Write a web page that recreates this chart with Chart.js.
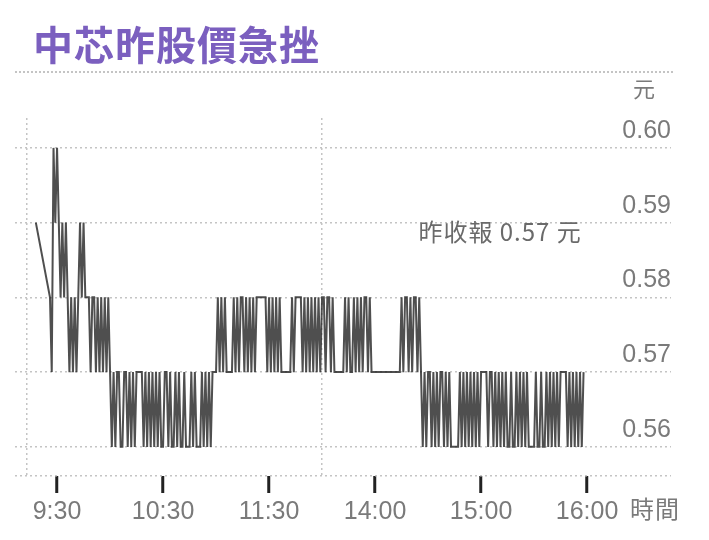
<!DOCTYPE html>
<html>
<head>
<meta charset="utf-8">
<script src="https://cdn.jsdelivr.net/npm/chart.js@4.4.1/dist/chart.umd.min.js"></script>
<style>
  html, body { margin: 0; padding: 0; background: #fff; }
  #wrap { position: relative; width: 709px; height: 540px; overflow: hidden; }
  #title { position: absolute; left: 33px; top: 14px; margin: 0; font: bold 40px "Noto Sans CJK TC", sans-serif; color: #7b5fbf; letter-spacing: 1px; }
  #rule { position: absolute; left: 15px; top: 71px; width: 658px; border-top: 2px dotted #c4c4c4; }
  #chart { position: absolute; left: 0; top: 0; }
</style>
</head>
<body>
<div id="wrap">
  <canvas id="chart" width="709" height="540"></canvas>
  <h1 id="title">中芯昨股價急挫</h1>
  <div id="rule"></div>
</div>
<script>
// trading minutes after 9:30 (lunch break folded out, 16:00 = 300)
const FIRST_MINUTE = -12;
const TICK_MINUTES = [0, 60, 120, 180, 240, 300];
const TICK_LABELS = ["9:30", "10:30", "11:30", "14:00", "15:00", "16:00"];
const DIVIDER_MINUTES = [-17, 150];
const PRICE_TICKS = [0.56, 0.57, 0.58, 0.59, 0.60];
const PREV_CLOSE_TEXT = "昨收報 0.57 元";

// one price per minute from FIRST_MINUTE, null = no trade
const prices = [
  0.59, null, null, null, null, null, null, null, 0.58, 0.57, 0.60, 0.59,
  0.60, 0.59, 0.58, 0.59, 0.58, 0.59, 0.58, 0.57, 0.58, 0.57,
  0.58, 0.57, 0.58, 0.59, 0.58, 0.59, 0.58, 0.58, 0.58, 0.57,
  0.58, 0.58, 0.57, 0.58, 0.57, 0.58, 0.57, 0.58, 0.57, 0.58,
  0.57, 0.56, 0.57, 0.56, 0.57, 0.57, 0.56, 0.56, 0.57, 0.57,
  0.56, 0.57, 0.56, 0.57, 0.56, 0.57, 0.57, 0.57, 0.57, 0.56,
  0.57, 0.56, 0.57, 0.56, 0.57, 0.56, 0.57, 0.56, 0.57, 0.56,
  0.56, 0.57, 0.57, 0.56, 0.57, 0.56, 0.56, 0.57, 0.56, 0.57,
  0.56, 0.56, 0.57, 0.56, 0.56, 0.56, 0.57, 0.56, 0.57, 0.56,
  0.56, 0.56, 0.57, 0.56, 0.57, 0.56, 0.57, 0.56, 0.57, 0.57,
  0.57, 0.58, 0.57, 0.58, 0.57, 0.58, 0.57, 0.57, 0.57, 0.57,
  0.58, 0.57, 0.58, 0.57, 0.58, 0.58, 0.57, 0.58, 0.57, 0.58,
  0.57, 0.58, 0.57, 0.58, 0.58, 0.58, 0.58, 0.58, 0.58, 0.57,
  0.58, 0.57, 0.58, 0.57, 0.58, 0.57, 0.58, 0.57, 0.57, 0.57,
  0.57, 0.57, 0.57, 0.58, 0.57, 0.58, 0.58, 0.58, 0.58, 0.57,
  0.58, 0.57, 0.58, 0.57, 0.58, 0.57, 0.58, 0.57, 0.58, 0.57,
  0.58, 0.58, 0.57, 0.58, 0.58, 0.57, 0.58, 0.57, 0.57, 0.57,
  0.57, 0.57, 0.57, 0.58, 0.57, 0.58, 0.57, 0.57, 0.58, 0.57,
  0.58, 0.57, 0.58, 0.57, 0.58, 0.58, 0.57, 0.58, 0.57, 0.57,
  0.57, 0.57, 0.57, 0.57, 0.57, 0.57, 0.57, 0.57, 0.57, 0.57,
  0.57, 0.57, 0.57, 0.57, 0.57, 0.58, 0.57, 0.58, 0.58, 0.57,
  0.58, 0.57, 0.58, 0.58, 0.57, 0.58, 0.57, 0.56, 0.57, 0.56,
  0.57, 0.57, 0.56, 0.57, 0.56, 0.57, 0.56, 0.57, 0.57, 0.56,
  0.57, 0.56, 0.57, 0.56, 0.56, 0.56, 0.56, 0.56, 0.57, 0.56,
  0.57, 0.56, 0.57, 0.56, 0.57, 0.56, 0.57, 0.56, 0.57, 0.56,
  0.57, 0.57, 0.57, 0.57, 0.56, 0.57, 0.57, 0.56, 0.57, 0.56,
  0.57, 0.56, 0.57, 0.56, 0.57, 0.56, 0.56, 0.57, 0.56, 0.56,
  0.57, 0.56, 0.57, 0.56, 0.57, 0.56, 0.57, 0.56, 0.56, 0.56,
  0.56, 0.57, 0.56, 0.56, 0.57, 0.56, 0.56, 0.57, 0.56, 0.57,
  0.56, 0.57, 0.56, 0.57, 0.56, 0.57, 0.57, 0.57, 0.57, 0.56,
  0.57, 0.56, 0.57, 0.56, 0.57, 0.56, 0.57, 0.56, 0.57,
];

const Y_MIN = 0.5561;
const Y_MAX = 0.6040;
const GRID = "#c4c4c4";
const LABEL = "#7a7a7a";
const CJK = '"Noto Sans CJK TC", sans-serif';
const LATIN = '"Liberation Sans", Arial, sans-serif';

const extraText = {
  id: "extraText",
  afterDraw(c) {
    const { ctx, scales, chartArea } = c;
    const x = scales.x, y = scales.y;
    ctx.save();
    ctx.fillStyle = LABEL;
    ctx.textBaseline = "middle";
    ctx.textAlign = "center";
    ctx.font = "22px " + CJK;
    ctx.fillText("元", chartArea.right - 27, y.getPixelForValue(0.6) - 59);
    ctx.fillStyle = "#6a6a6a";
    ctx.textAlign = "right";
    ctx.font = "24px " + CJK;
    ctx.letterSpacing = "1px";
    ctx.fillText(PREV_CLOSE_TEXT, x.getPixelForValue(297), y.getPixelForValue(0.5888));
    ctx.textAlign = "left";
    ctx.fillStyle = LABEL;
    ctx.fillText("時間", x.getPixelForValue(300) + 43, x.bottom - 22);
    ctx.restore();
  },
};

new Chart(document.getElementById("chart"), {
  type: "line",
  data: {
    datasets: [{
      data: prices.map((p, i) => ({ x: FIRST_MINUTE + i, y: p })),
      borderColor: "rgba(30,30,30,0.78)",
      borderWidth: 2,
      pointRadius: 0,
      tension: 0,
      spanGaps: true,
    }],
  },
  options: {
    responsive: false,
    animation: false,
    layout: { padding: { left: 15, right: 38, top: 118, bottom: 9 } },
    plugins: { legend: { display: false }, tooltip: { enabled: false } },
    scales: {
      x: {
        type: "linear",
        min: -23.8,
        max: 347.5,
        afterBuildTicks: (s) => { s.ticks = DIVIDER_MINUTES.concat(TICK_MINUTES).map((v) => ({ value: v })); },
        border: { display: false, dash: [2, 3] },
        grid: {
          color: (ctx) => (DIVIDER_MINUTES.includes(ctx.tick.value) ? GRID : "rgba(0,0,0,0)"),
          lineWidth: 1.5,
          tickLength: 17,
          tickWidth: 3,
          tickColor: (ctx) => (TICK_MINUTES.includes(ctx.tick.value) ? "#222" : "rgba(0,0,0,0)"),
          drawTicks: true,
        },
        ticks: {
          autoSkip: false,
          maxRotation: 0,
          padding: 4,
          color: LABEL,
          font: { family: LATIN, size: 25 },
          callback: (v) => { const i = TICK_MINUTES.indexOf(v); return i >= 0 ? TICK_LABELS[i] : ""; },
        },
      },
      y: {
        position: "right",
        min: Y_MIN,
        max: Y_MAX,
        afterBuildTicks: (s) => { s.ticks = [Y_MIN].concat(PRICE_TICKS).map((v) => ({ value: v })); },
        border: { display: false, dash: [2, 3] },
        grid: { color: GRID, lineWidth: 1.5, drawTicks: false },
        ticks: {
          mirror: true,
          padding: 0,
          labelOffset: -17,
          color: LABEL,
          font: { family: LATIN, size: 25 },
          callback: (v) => (PRICE_TICKS.includes(v) ? v.toFixed(2) : ""),
        },
      },
    },
  },
  plugins: [extraText],
});
</script>
</body>
</html>
